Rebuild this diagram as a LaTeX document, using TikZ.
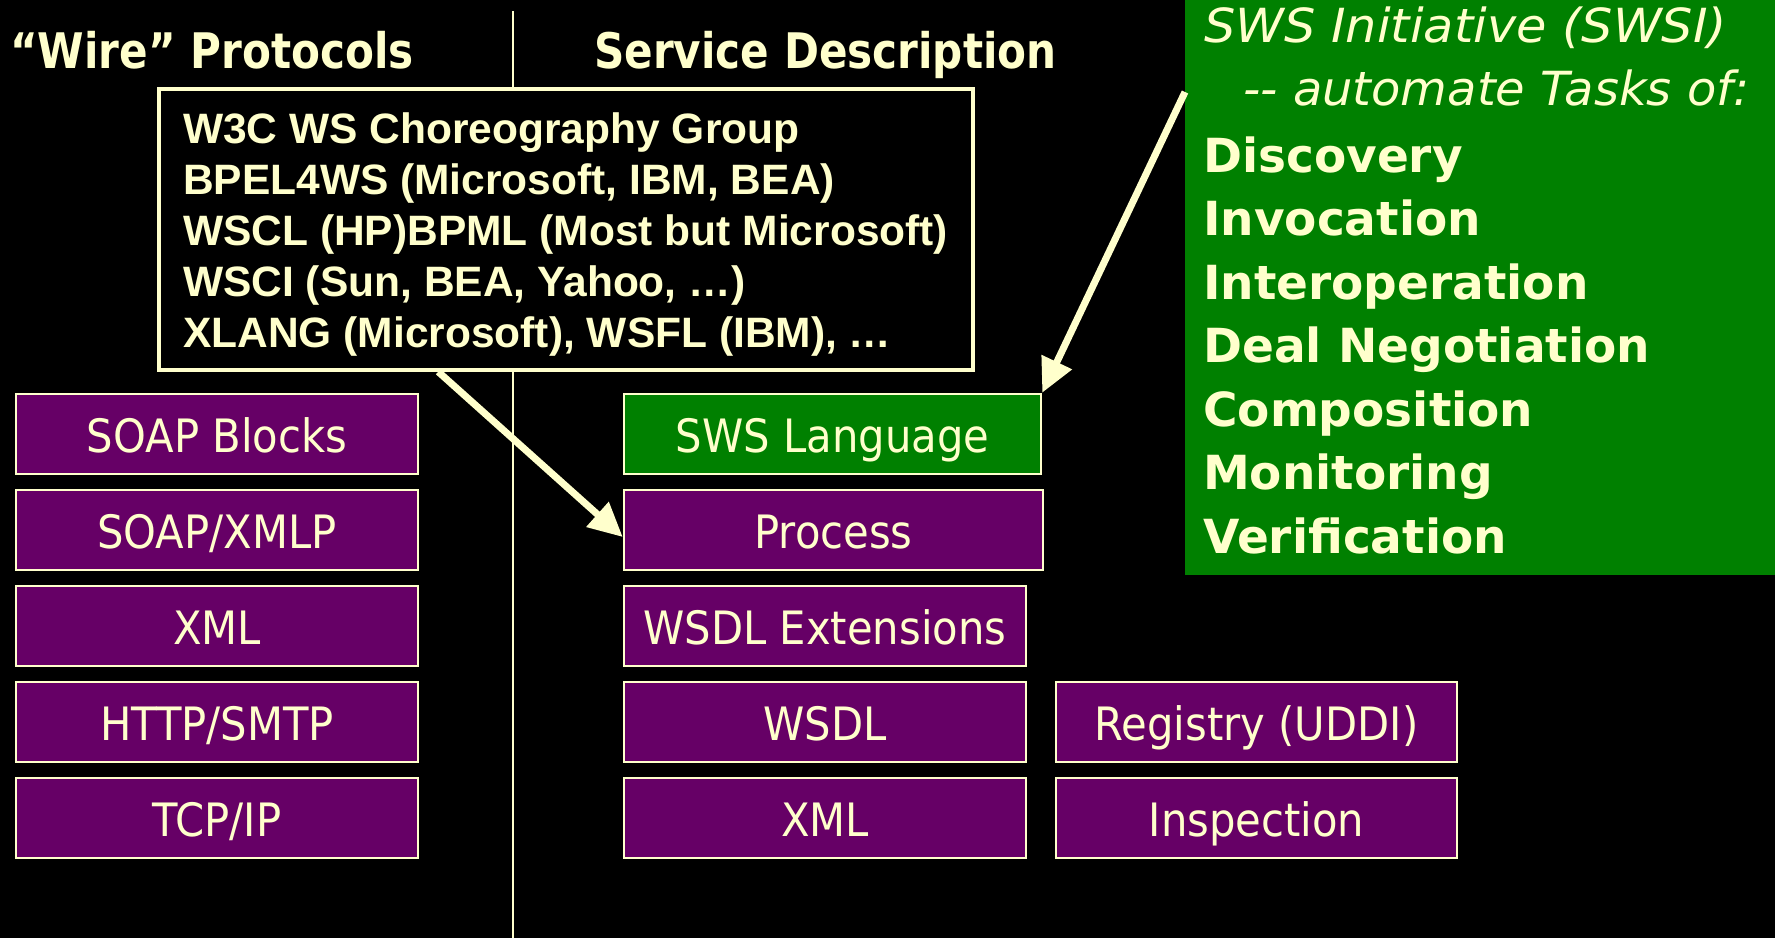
\documentclass[tikz,border=0pt]{standalone}
\usepackage{fontspec}
\setmainfont{DejaVu Sans}
\newfontfamily\boxfont[FakeStretch=0.907]{DejaVu Sans}
\newfontfamily\headfont[FakeStretch=0.86]{DejaVu Sans}
\newfontfamily\listfont{Liberation Sans}
\newfontfamily\slantfont[FakeStretch=1.05]{DejaVu Sans}
\newfontfamily\slantfontnarrow[FakeStretch=1.02]{DejaVu Sans}
\usetikzlibrary{arrows.meta,calc}
\definecolor{cream}{HTML}{FFFFCC}
\definecolor{plum}{HTML}{660066}
\definecolor{leaf}{HTML}{008000}
\begin{document}
\begin{tikzpicture}[x=1pt,y=-1pt,
  layer/.style={draw=cream, line width=2.5pt, fill=plum, text=cream,
    font={\boxfont\fontsize{46}{50}\selectfont},
    minimum height=80pt, inner sep=0pt, text height=36pt, text depth=0pt},
  swslayer/.style={layer, fill=leaf},
  head/.style={anchor=base west, inner sep=0pt, text=cream,
    font={\headfont\bfseries\fontsize{49}{55}\selectfont}},
  listline/.style={anchor=base west, inner sep=0pt, text=cream,
    font={\listfont\bfseries\fontsize{42.5}{48}\selectfont}},
  slantline/.style={anchor=base west, inner sep=0pt, text=cream,
    font={\slantfont\itshape\fontsize{47}{52}\selectfont}},
  task/.style={anchor=base west, inner sep=0pt, text=cream,
    font={\bfseries\fontsize{47}{52}\selectfont}},
  conn/.style={draw=cream, line width=7pt,
    -{Triangle[length=34pt,width=32pt]}}]

% background
\fill[black] (0,0) rectangle (1775,938);
\useasboundingbox (0,0) rectangle (1775,938);

% column divider
\draw[cream, line width=2.5pt] (513,11) -- (513,938);

% column headings
\node[head] (wire) at (10,68) {“Wire” Protocols};
\node[head] (svc) at (594,68) {Service Description};

% choreography standards box
\node[draw=cream, line width=3.5pt, fill=black, minimum width=814pt,
  minimum height=281pt, inner sep=0pt] (chor) at (566,229.5) {};
\node[listline] (c1) at (183,143) {W3C WS Choreography Group};
\node[listline] (c2) at (183,194) {BPEL4WS (Microsoft, IBM, BEA)};
\node[listline] (c3) at (183,245) {WSCL (HP)BPML (Most but Microsoft)};
\node[listline] (c4) at (183,296) {WSCI (Sun, BEA, Yahoo, …)};
\node[listline] (c5) at (183,347) {XLANG (Microsoft), WSFL (IBM), …};

% wire protocol stack
\node[layer, minimum width=402pt] (soapb) at (217,434) {SOAP Blocks};
\node[layer, minimum width=402pt] (xmlp)  at (217,530) {SOAP/XMLP};
\node[layer, minimum width=402pt] (xmll)  at (217,626) {XML};
\node[layer, minimum width=402pt] (http)  at (217,722) {HTTP/SMTP};
\node[layer, minimum width=402pt] (tcp)   at (217,818) {TCP/IP};

% service description stack
\node[swslayer, minimum width=417pt] (swsl) at (832.5,434) {SWS Language};
\node[layer, minimum width=419pt] (proc) at (833.5,530) {Process};
\node[layer, minimum width=402pt] (wsdlx) at (825,626) {WSDL Extensions};
\node[layer, minimum width=402pt] (wsdl) at (825,722) {WSDL};
\node[layer, minimum width=402pt] (xmlr) at (825,818) {XML};
\node[layer, minimum width=401pt] (uddi) at (1256.5,722) {Registry (UDDI)};
\node[layer, minimum width=401pt] (insp) at (1256.5,818) {Inspection};

% SWS initiative panel
\node[fill=leaf, anchor=north west, minimum width=590pt, minimum height=575pt,
  inner sep=0pt] (swsi) at (1185,0) {};
\node[slantline] (s1) at (1204,42) {SWS Initiative (SWSI)};
\node[slantline, font={\slantfontnarrow\itshape\fontsize{47}{52}\selectfont}]
  (s2) at (1243,105) {-- automate Tasks of:};
\foreach \w [count=\k] in {Discovery, Invocation, Interoperation,
    Deal Negotiation, Composition, Monitoring, Verification}
  \node[task] (task\k) at (1203,{172+63.5*(\k-1)}) {\w};

% connectors
\draw[conn] ($(chor.south west)+(281,0)$) -- ($(proc.west)+(0,7)$);
\draw[conn] ($(swsi.north west)+(0,92)$) -- (swsl.north east);
\end{tikzpicture}
\end{document}
